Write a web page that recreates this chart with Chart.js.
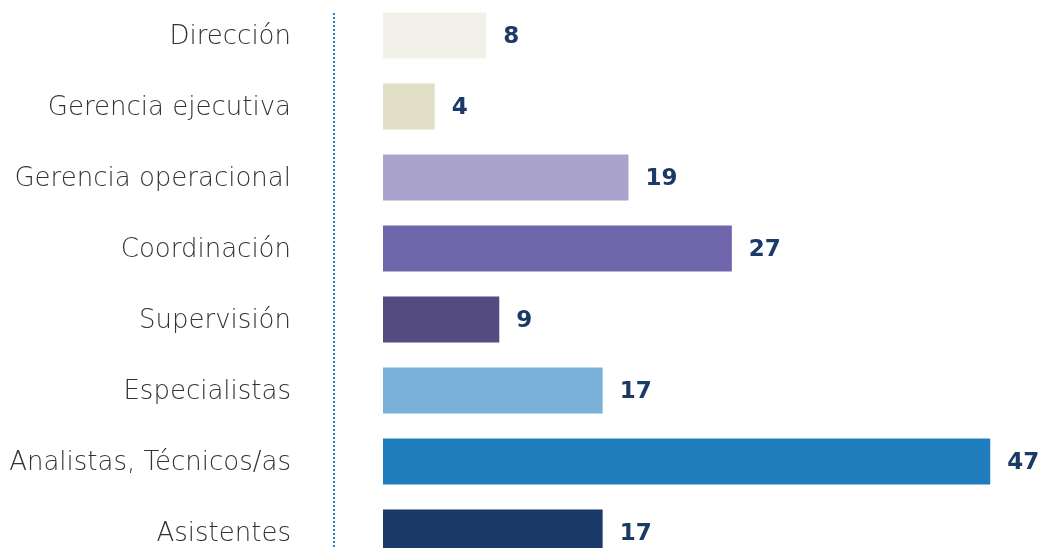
<!DOCTYPE html>
<html lang="es">
<head>
  <meta charset="UTF-8" />
  <title>Personal por cargo</title>
  <script src="https://cdn.jsdelivr.net/npm/chart.js"></script>
  <style>
    html, body { margin: 0; padding: 0; background: #fff; overflow: hidden; }
    #wrap { position: relative; width: 1045px; height: 568px; }
  </style>
</head>
<body>
  <div id="wrap"><canvas id="chart"></canvas></div>

  <script>
    // data
    const categories = ["Dirección", "Gerencia ejecutiva", "Gerencia operacional", "Coordinación",
                        "Supervisión", "Especialistas", "Analistas, Técnicos/as", "Asistentes"];
    const values = [8, 4, 19, 27, 9, 17, 47, 17];
    const barColors = ["#f2f1e9", "#e1e0c6", "#a9a3cb", "#7066ab",
                       "#544b80", "#7ab1d8", "#1f7dbd", "#1a3a67"];

    // dotted separator left of the bars
    const dottedLine = {
      id: 'dottedLine',
      beforeDatasetsDraw(chart) {
        const { ctx, chartArea } = chart;
        const x = chartArea.left - 49;
        ctx.save();
        ctx.strokeStyle = "#2a7fc1";
        ctx.lineWidth = 2;
        ctx.setLineDash([2, 2]);
        ctx.beginPath();
        ctx.moveTo(x, 13);
        ctx.lineTo(x, chartArea.bottom);
        ctx.stroke();
        ctx.restore();
      }
    };

    // value labels at bar ends
    const valueLabels = {
      id: 'valueLabels',
      afterDatasetsDraw(chart) {
        const { ctx } = chart;
        const meta = chart.getDatasetMeta(0);
        ctx.save();
        ctx.fillStyle = "#1b3a66";
        ctx.font = "bold 23px 'DejaVu Sans', sans-serif";
        ctx.textAlign = "left";
        ctx.textBaseline = "middle";
        meta.data.forEach((bar, i) => {
          ctx.fillText(values[i], bar.x + 17, bar.y + 2);
        });
        ctx.restore();
      }
    };

    new Chart(document.getElementById("chart"), {
      type: 'bar',
      data: {
        labels: categories,
        datasets: [{
          data: values,
          backgroundColor: barColors,
          barPercentage: 0.65,
          categoryPercentage: 1
        }]
      },
      options: {
        indexAxis: 'y',
        responsive: true,
        maintainAspectRatio: false,
        animation: false,
        layout: { padding: { top: 0, right: 16, bottom: 0, left: 0 } },
        plugins: {
          legend: { display: false },
          tooltip: { enabled: false }
        },
        scales: {
          x: {
            display: false,
            min: 0,
            max: 50
          },
          y: {
            afterFit(scale) {
              scale.width = 383;
              scale.paddingTop = 0;
              scale.paddingBottom = 0;
            },
            grid: { display: false, drawTicks: false },
            border: { display: false },
            ticks: {
              padding: 92,
              labelOffset: 2,
              color: "#333333",
              font: { family: "'DejaVu Sans', sans-serif", size: 26, weight: 200 }
            }
          }
        }
      },
      plugins: [dottedLine, valueLabels]
    });
  </script>
</body>
</html>
